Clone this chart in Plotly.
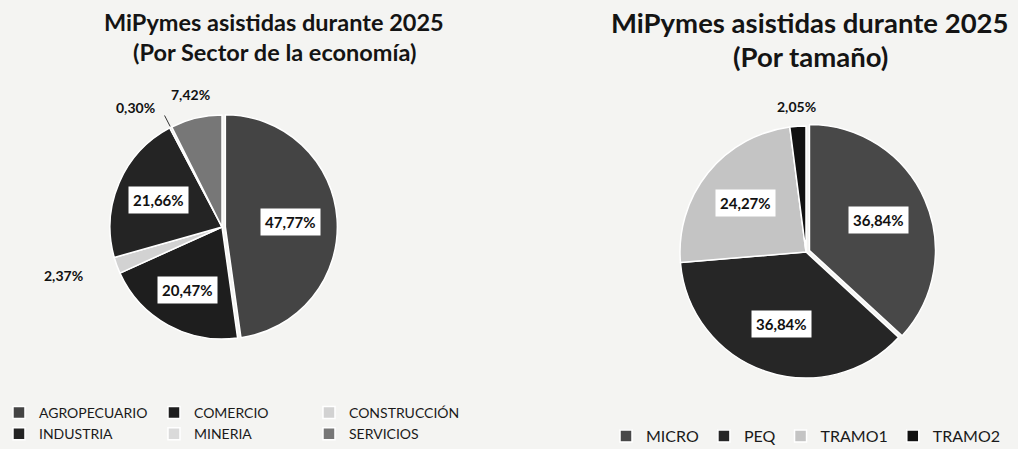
import math
import plotly.graph_objects as go

W, H = 1018, 449

# ---------------- data ----------------
sector_labels = ["AGROPECUARIO", "COMERCIO", "CONSTRUCCIÓN", "INDUSTRIA", "MINERIA", "SERVICIOS"]
sector_values = [47.77, 20.47, 2.37, 21.66, 0.30, 7.42]

size_labels = ["MICRO", "PEQ", "TRAMO1", "TRAMO2"]
size_values = [36.84, 36.84, 24.27, 2.05]

title_left = ["MiPymes asistidas durante 2025", "(Por Sector de la economía)"]
title_right = ["MiPymes asistidas durante 2025", "(Por tamaño)"]

# ---------------- style ----------------
FONT = "Lato"
BG = "#f4f4f2"
sector_colors = ["#444444", "#1e1e1e", "#d2d2d2", "#242424", "#dadada", "#777777"]
size_colors = ["#484848", "#262626", "#c4c4c4", "#111111"]
sector_pull = [0.03, 0, 0, 0, 0, 0]
size_pull = [0.03, 0, 0, 0]
# label radial factor (fraction of radius) and whether label is outside
sector_label_r = [0.58, 0.64, 1.27, 0.62, 1.2, 1.22]
sector_outside = [False, False, True, False, True, True]
sector_leader = [False, False, False, False, True, False]
size_label_r = [0.6, 0.6, 0.62, 1.16]
size_outside = [False, False, False, True]
size_leader = [False, False, False, False]

# pie geometry in pixels (centre, radius)
L_CX, L_CY, L_R = 222, 227, 112
R_CX, R_CY, R_R = 806, 252, 126


def domain(cx, cy, r, pulls):
    half = r * (1 + max(pulls))
    return dict(x=[(cx - half) / W, (cx + half) / W],
                y=[(H - cy - half) / H, (H - cy + half) / H])


def fmt(v):
    return f"{v:.2f}".replace(".", ",") + "%"


fig = go.Figure()
fig.add_trace(go.Pie(
    labels=sector_labels, values=sector_values, sort=False, direction="clockwise",
    rotation=0, pull=sector_pull, textinfo="none", hoverinfo="label+percent",
    marker=dict(colors=sector_colors, line=dict(color="white", width=1.5)),
    domain=domain(L_CX, L_CY, L_R, sector_pull), legend="legend",
))
fig.add_trace(go.Pie(
    labels=size_labels, values=size_values, sort=False, direction="clockwise",
    rotation=0, pull=size_pull, textinfo="none", hoverinfo="label+percent",
    marker=dict(colors=size_colors, line=dict(color="white", width=1.5)),
    domain=domain(R_CX, R_CY, R_R, size_pull), legend="legend2",
))

annotations = []
shapes = []


def add_labels(values, cx, cy, r, pulls, rfac, outside, leader):
    total = sum(values)
    cum = 0.0
    for v, p, f, out, ld in zip(values, pulls, rfac, outside, leader):
        ang = 2 * math.pi * (cum + v / 2) / total
        cum += v
        sx, sy = math.sin(ang), -math.cos(ang)
        px = cx + (f + p) * r * sx
        py = cy + (f + p) * r * sy
        xanchor = "center"
        if out and sx < -0.4:
            xanchor = "right"
        annotations.append(dict(
            x=px / W, y=1 - py / H, xref="paper", yref="paper", showarrow=False,
            text=f"<b>{fmt(v)}</b>", xanchor=xanchor, yanchor="middle",
            font=dict(family=FONT, size=14 if out else 15, color="#111"),
            bgcolor=None if out else "white", borderpad=4,
        ))
        if ld:
            x0, y0 = cx + 1.01 * r * sx, cy + 1.01 * r * sy
            x1, y1 = cx + 1.12 * r * sx, cy + 1.12 * r * sy
            shapes.append(dict(type="line", xref="paper", yref="paper",
                               x0=x0 / W, y0=1 - y0 / H, x1=x1 / W, y1=1 - y1 / H,
                               line=dict(color="#333", width=1)))


add_labels(sector_values, L_CX, L_CY, L_R, sector_pull, sector_label_r, sector_outside, sector_leader)
add_labels(size_values, R_CX, R_CY, R_R, size_pull, size_label_r, size_outside, size_leader)


def add_title(lines, cx, ys, size):
    for line, y in zip(lines, ys):
        annotations.append(dict(
            x=cx / W, y=1 - y / H, xref="paper", yref="paper", showarrow=False,
            text=f"<b>{line}</b>", xanchor="center", yanchor="middle",
            font=dict(family=FONT, size=size, color="#141414"),
        ))


add_title(title_left, 274, [22, 52], 23.5)
add_title(title_right, 810, [23, 57], 27.5)

fig.update_layout(
    width=W, height=H, margin=dict(l=0, r=0, t=0, b=0, autoexpand=False),
    paper_bgcolor=BG, plot_bgcolor=BG,
    annotations=annotations, shapes=shapes,
    legend=dict(orientation="h", x=-0.001, y=1 - 397 / H, xanchor="left", yanchor="top",
                entrywidth=110, itemwidth=30, bgcolor="rgba(0,0,0,0)",
                font=dict(family=FONT, size=14, color="#1a1a1a")),
    legend2=dict(orientation="h", x=606 / W, y=1 - 419 / H, xanchor="left", yanchor="top",
                 itemwidth=30, bgcolor="rgba(0,0,0,0)",
                 font=dict(family=FONT, size=16, color="#1a1a1a")),
)

fig.write_html("out.html", config={"displayModeBar": False},
               post_script="document.body.style.margin='0';document.body.style.overflow='hidden';")
